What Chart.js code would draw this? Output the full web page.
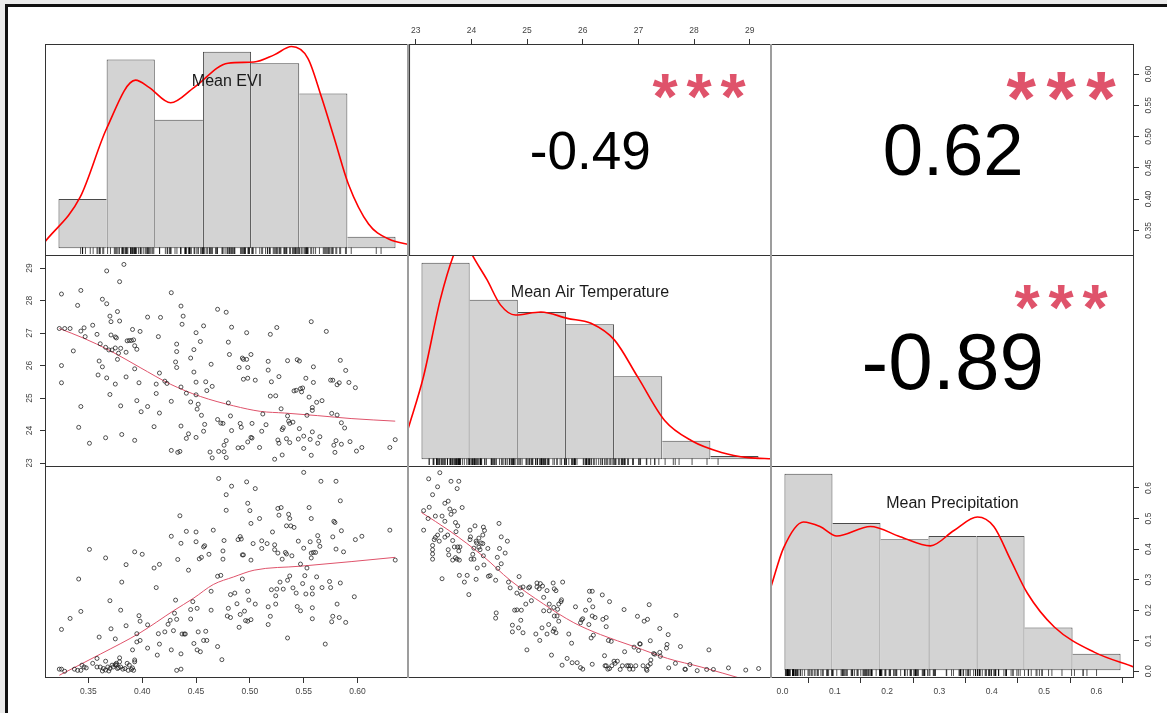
<!DOCTYPE html>
<html>
<head>
<meta charset="utf-8">
<title>Correlation matrix</title>
<script src="https://cdn.jsdelivr.net/npm/chart.js@4.4.0/dist/chart.umd.min.js"></script>
<style>
  html, body { margin: 0; padding: 0; }
  body { width: 1167px; height: 713px; overflow: hidden; position: relative; background: #ebebeb; }
  #frame { position: absolute; left: 5px; top: 4px; width: 1200px; height: 760px; background: #fff;
           border-left: 3px solid #111; border-top: 3px solid #111; }
  canvas { position: absolute; }
  .sep { position: absolute; top: 44px; height: 634px; width: 2px; background: #9d9d9d; z-index: 5; }
</style>
</head>
<body>
<div id="frame"></div>
<div class="sep" style="left:407px"></div>
<div class="sep" style="left:770px"></div>
<script>
// variables, in matrix order
const varNames = ['Mean EVI', 'Mean Air Temperature', 'Mean Precipitation'];

// upper panels: correlation and significance
const corValues = [-0.49, 0.62, -0.89];
const corStars = ['***', '***', '***'];

// axis ranges and tick steps
const eviRange = [0.3097, 0.6478];
const tempRange = [22.88, 29.40];
const precipRange = [-0.022, 0.672];
const eviStep = 0.05, tempStep = 1, precipStep = 0.1;

// histograms (counts per bin)
const eviBreaks = [0.30, 0.35, 0.40, 0.45, 0.50, 0.55, 0.60, 0.65];
const eviCounts = [13, 50, 34, 52, 49, 41, 3];
const tempBreaks = [23, 24, 25, 26, 27, 28, 29, 30];
const tempCounts = [64, 52, 48, 44, 27, 6, 1];
const precipBreaks = [0.0, 0.1, 0.2, 0.3, 0.4, 0.5, 0.6, 0.7];
const precipCounts = [60, 45, 40, 41, 41, 13, 5];

// kernel density curves, in count units
const eviDens = [[0.286,1.7],[0.3225,13.5],[0.350,31.7],[0.380,44.5],[0.394,42.6],[0.4165,38.5],[0.441,42.6],[0.476,49.0],[0.503,49.3],[0.524,51.2],[0.542,53.4],[0.559,50.3],[0.573,40.1],[0.587,28.6],[0.601,17.0],[0.622,6.4],[0.643,2.4],[0.665,0.9]];
const tempDens = [[22.72,9.8],[23.04,26.8],[23.39,52],[23.67,66.7],[23.86,73],[24.05,66.7],[24.36,58.5],[24.64,50.3],[24.95,47],[25.48,48],[26.03,45.9],[26.52,44.3],[27.01,38.8],[27.49,26.8],[28.05,12.6],[28.61,6.0],[29.23,2.2],[29.79,0.5],[30.29,0.1]];
const precipDens = [[-0.028,25.5],[-0.002,37.3],[0.0395,45.3],[0.074,43.9],[0.109,41.0],[0.179,43.9],[0.241,40.8],[0.304,38.0],[0.353,42.7],[0.402,46.8],[0.436,43.9],[0.471,33.7],[0.506,23.5],[0.562,13.2],[0.645,5.5],[0.729,0.9]];

// scatter points [x, y]
const eviTemp = [[0.323,27.14],[0.328,27.14],[0.333,27.14],[0.325,28.20],[0.325,26.00],[0.325,25.47],[0.340,27.85],[0.343,28.31],[0.343,27.06],[0.346,27.16],[0.347,26.89],[0.336,26.45],[0.341,24.10],[0.343,24.74],[0.351,23.61],[0.354,27.24],[0.358,26.96],[0.360,26.14],[0.359,25.71],[0.361,26.67],[0.363,28.04],[0.363,25.96],[0.366,23.78],[0.366,26.56],[0.367,28.91],[0.367,25.62],[0.367,27.90],[0.370,27.52],[0.371,27.35],[0.370,25.11],[0.371,26.94],[0.369,26.48],[0.372,26.48],[0.375,26.54],[0.375,26.88],[0.376,26.85],[0.377,27.66],[0.379,28.58],[0.379,27.37],[0.375,25.43],[0.377,26.19],[0.378,26.38],[0.380,26.53],[0.380,24.76],[0.381,23.88],[0.383,29.11],[0.385,26.41],[0.385,25.65],[0.386,26.76],[0.388,26.77],[0.390,26.77],[0.391,27.11],[0.392,26.79],[0.393,25.90],[0.393,26.61],[0.395,26.50],[0.395,24.92],[0.397,25.47],[0.393,23.70],[0.399,24.58],[0.398,27.05],[0.405,24.74],[0.405,27.49],[0.411,24.12],[0.413,25.14],[0.413,25.43],[0.415,26.89],[0.416,25.77],[0.416,24.54],[0.417,27.48],[0.421,25.52],[0.423,25.45],[0.427,24.90],[0.427,28.24],[0.427,23.39],[0.433,23.33],[0.432,26.66],[0.431,26.11],[0.432,25.94],[0.432,26.43],[0.435,23.36],[0.436,25.34],[0.436,27.83],[0.436,24.14],[0.437,27.27],[0.438,27.52],[0.441,25.15],[0.441,23.76],[0.443,23.90],[0.445,24.88],[0.445,26.23],[0.448,26.49],[0.448,25.80],[0.450,23.79],[0.450,27.01],[0.450,25.49],[0.451,24.66],[0.452,24.81],[0.454,26.74],[0.455,24.47],[0.457,27.22],[0.457,23.98],[0.458,24.19],[0.459,25.50],[0.460,25.23],[0.464,26.04],[0.465,25.36],[0.463,23.34],[0.465,23.16],[0.470,27.73],[0.471,23.36],[0.470,24.34],[0.473,24.23],[0.475,24.22],[0.476,23.35],[0.476,23.55],[0.478,27.64],[0.478,23.17],[0.478,23.69],[0.480,26.72],[0.480,24.85],[0.481,26.34],[0.483,27.18],[0.482,24.45],[0.483,24.00],[0.489,23.47],[0.490,25.94],[0.493,26.23],[0.491,24.22],[0.492,24.10],[0.493,23.48],[0.494,26.19],[0.494,25.58],[0.497,26.19],[0.497,27.01],[0.498,25.94],[0.498,25.61],[0.498,23.65],[0.501,26.34],[0.501,23.79],[0.502,23.77],[0.502,24.22],[0.505,25.55],[0.509,23.48],[0.512,24.51],[0.511,23.98],[0.515,24.18],[0.517,26.13],[0.517,25.86],[0.519,26.96],[0.520,25.50],[0.523,23.12],[0.524,25.07],[0.525,27.17],[0.527,25.66],[0.526,23.71],[0.527,23.61],[0.529,24.67],[0.530,23.25],[0.530,24.03],[0.531,24.09],[0.534,23.75],[0.535,24.45],[0.536,24.29],[0.537,24.22],[0.540,24.26],[0.537,23.63],[0.535,26.15],[0.541,25.22],[0.543,25.24],[0.544,26.18],[0.546,26.14],[0.547,25.29],[0.549,25.31],[0.545,23.74],[0.546,24.06],[0.550,23.83],[0.550,23.45],[0.552,25.61],[0.553,24.47],[0.555,25.03],[0.557,27.35],[0.556,23.73],[0.557,23.24],[0.558,24.62],[0.558,23.96],[0.559,25.48],[0.558,24.71],[0.559,25.96],[0.562,24.87],[0.563,23.61],[0.565,23.81],[0.567,24.92],[0.571,27.05],[0.576,24.53],[0.578,23.55],[0.579,23.33],[0.580,23.69],[0.581,24.48],[0.583,25.47],[0.584,26.16],[0.581,25.41],[0.585,23.58],[0.585,24.24],[0.588,24.08],[0.589,25.85],[0.592,25.48],[0.593,23.66],[0.598,25.32],[0.599,23.37],[0.604,23.48],[0.630,23.48],[0.635,23.72],[0.575,25.55],[0.577,25.55],[0.548,25.19],[0.519,25.06],[0.450,25.10]];

const eviPrecip = [[0.323,0.007],[0.325,0.007],[0.328,0.000],[0.337,0.007],[0.340,0.003],[0.343,0.003],[0.344,0.020],[0.346,0.014],[0.348,0.011],[0.354,0.026],[0.358,0.042],[0.358,0.014],[0.361,0.014],[0.363,0.001],[0.364,0.009],[0.366,0.033],[0.366,0.004],[0.368,0.014],[0.369,0.001],[0.370,0.009],[0.372,0.020],[0.373,0.014],[0.375,0.022],[0.376,0.020],[0.376,0.026],[0.377,0.009],[0.378,0.012],[0.379,0.031],[0.380,0.014],[0.382,0.007],[0.384,0.009],[0.386,0.026],[0.387,0.003],[0.388,0.020],[0.390,0.006],[0.391,0.011],[0.392,0.003],[0.393,0.031],[0.393,0.037],[0.325,0.137],[0.333,0.173],[0.341,0.302],[0.343,0.196],[0.351,0.399],[0.360,0.112],[0.366,0.371],[0.371,0.139],[0.370,0.231],[0.375,0.106],[0.379,0.044],[0.380,0.200],[0.381,0.292],[0.385,0.349],[0.385,0.149],[0.391,0.070],[0.393,0.391],[0.395,0.096],[0.395,0.123],[0.397,0.182],[0.398,0.164],[0.398,0.101],[0.400,0.383],[0.405,0.076],[0.405,0.152],[0.411,0.338],[0.413,0.274],[0.414,0.053],[0.415,0.123],[0.416,0.350],[0.416,0.089],[0.421,0.129],[0.424,0.154],[0.427,0.070],[0.427,0.442],[0.426,0.167],[0.429,0.133],[0.430,0.190],[0.431,0.233],[0.432,0.170],[0.432,0.003],[0.433,0.366],[0.435,0.509],[0.436,0.419],[0.436,0.007],[0.436,0.057],[0.437,0.122],[0.439,0.122],[0.440,0.122],[0.441,0.458],[0.443,0.331],[0.445,0.171],[0.445,0.202],[0.447,0.228],[0.448,0.091],[0.450,0.456],[0.450,0.424],[0.451,0.206],[0.451,0.070],[0.452,0.129],[0.453,0.368],[0.454,0.064],[0.455,0.373],[0.457,0.407],[0.457,0.101],[0.458,0.411],[0.459,0.131],[0.460,0.101],[0.462,0.383],[0.464,0.200],[0.464,0.262],[0.466,0.462],[0.470,0.081],[0.470,0.311],[0.471,0.631],[0.473,0.314],[0.474,0.038],[0.475,0.367],[0.475,0.394],[0.476,0.428],[0.478,0.527],[0.478,0.578],[0.479,0.181],[0.480,0.206],[0.482,0.176],[0.482,0.251],[0.483,0.606],[0.486,0.256],[0.488,0.221],[0.489,0.431],[0.490,0.144],[0.491,0.186],[0.491,0.441],[0.492,0.433],[0.493,0.302],[0.493,0.381],[0.494,0.381],[0.495,0.197],[0.496,0.166],[0.497,0.620],[0.498,0.550],[0.498,0.262],[0.498,0.164],[0.499,0.233],[0.500,0.526],[0.501,0.169],[0.501,0.364],[0.501,0.484],[0.503,0.418],[0.505,0.598],[0.505,0.220],[0.509,0.500],[0.511,0.427],[0.511,0.402],[0.516,0.418],[0.517,0.211],[0.517,0.153],[0.519,0.180],[0.520,0.267],[0.521,0.456],[0.523,0.414],[0.523,0.398],[0.524,0.220],[0.524,0.247],[0.525,0.269],[0.526,0.533],[0.526,0.387],[0.527,0.511],[0.528,0.292],[0.529,0.536],[0.530,0.367],[0.531,0.269],[0.533,0.389],[0.534,0.384],[0.534,0.476],[0.535,0.109],[0.535,0.298],[0.537,0.500],[0.536,0.514],[0.537,0.312],[0.538,0.476],[0.539,0.378],[0.540,0.273],[0.541,0.471],[0.543,0.256],[0.544,0.212],[0.545,0.426],[0.547,0.351],[0.547,0.198],[0.549,0.287],[0.550,0.403],[0.550,0.651],[0.551,0.313],[0.552,0.253],[0.553,0.338],[0.555,0.536],[0.556,0.424],[0.557,0.500],[0.557,0.371],[0.557,0.387],[0.558,0.273],[0.558,0.208],[0.558,0.253],[0.558,0.172],[0.559,0.389],[0.561,0.389],[0.562,0.309],[0.563,0.444],[0.564,0.426],[0.565,0.409],[0.566,0.622],[0.567,0.274],[0.570,0.089],[0.574,0.294],[0.575,0.274],[0.576,0.162],[0.577,0.440],[0.577,0.180],[0.578,0.491],[0.579,0.487],[0.580,0.400],[0.580,0.622],[0.581,0.220],[0.583,0.176],[0.584,0.289],[0.584,0.558],[0.585,0.460],[0.587,0.391],[0.589,0.160],[0.597,0.244],[0.598,0.431],[0.604,0.442],[0.630,0.462],[0.635,0.364]];

const tempPrecip = [[23.45,0.650],[23.25,0.630],[23.65,0.622],[23.79,0.622],[23.41,0.604],[23.32,0.578],[23.76,0.598],[23.54,0.550],[23.60,0.557],[23.16,0.526],[23.26,0.537],[23.37,0.508],[23.49,0.508],[23.63,0.531],[23.71,0.524],[23.54,0.491],[23.85,0.536],[23.65,0.514],[23.24,0.500],[23.16,0.462],[23.47,0.462],[23.73,0.487],[23.77,0.476],[23.74,0.457],[23.59,0.446],[23.41,0.446],[23.37,0.438],[23.35,0.431],[23.44,0.426],[23.54,0.439],[23.68,0.428],[23.32,0.412],[23.32,0.398],[23.32,0.384],[23.32,0.367],[23.60,0.398],[23.71,0.407],[23.77,0.407],[23.81,0.407],[23.79,0.394],[23.61,0.381],[23.73,0.372],[23.76,0.367],[23.68,0.364],[23.80,0.364],[23.99,0.462],[24.00,0.440],[24.08,0.476],[24.23,0.472],[24.25,0.461],[24.22,0.446],[24.15,0.436],[24.10,0.426],[23.99,0.431],[24.11,0.420],[24.19,0.420],[24.22,0.418],[24.31,0.402],[24.04,0.383],[24.01,0.367],[24.06,0.403],[24.15,0.406],[24.17,0.398],[24.23,0.378],[24.06,0.367],[24.12,0.338],[24.24,0.348],[23.80,0.314],[23.94,0.314],[23.89,0.292],[23.49,0.303],[23.97,0.251],[24.10,0.301],[24.32,0.311],[24.35,0.313],[24.45,0.298],[24.48,0.373],[24.55,0.440],[24.52,0.402],[24.49,0.337],[24.55,0.352],[24.62,0.387],[24.66,0.426],[24.51,0.484],[24.68,0.292],[24.71,0.273],[24.87,0.310],[24.89,0.273],[24.83,0.256],[24.94,0.276],[24.91,0.251],[24.99,0.220],[25.04,0.273],[25.09,0.231],[25.06,0.276],[25.19,0.276],[25.23,0.270],[25.19,0.289],[25.25,0.287],[25.29,0.279],[25.31,0.242],[25.37,0.264],[25.41,0.220],[25.48,0.289],[25.65,0.292],[25.50,0.270],[25.53,0.264],[25.58,0.220],[25.63,0.234],[25.56,0.203],[25.49,0.209],[25.50,0.181],[25.58,0.164],[25.31,0.198],[25.28,0.142],[25.41,0.198],[25.40,0.153],[25.48,0.131],[25.50,0.139],[25.53,0.126],[25.62,0.228],[25.55,0.181],[25.76,0.122],[25.81,0.092],[25.88,0.211],[25.97,0.159],[26.01,0.172],[25.99,0.168],[26.06,0.200],[26.13,0.262],[26.18,0.262],[26.19,0.211],[26.13,0.233],[26.18,0.181],[26.23,0.176],[26.12,0.153],[26.20,0.118],[26.16,0.109],[26.36,0.250],[26.37,0.170],[26.43,0.176],[26.43,0.146],[26.49,0.228],[26.47,0.101],[26.52,0.098],[26.40,0.051],[26.41,0.018],[26.43,0.018],[26.46,0.007],[26.49,0.009],[26.53,0.018],[26.57,0.033],[26.59,0.026],[26.63,0.033],[26.68,0.006],[26.72,0.018],[26.75,0.202],[26.76,0.064],[26.80,0.018],[26.83,0.018],[26.85,0.007],[26.87,0.018],[26.91,0.007],[26.93,0.079],[26.96,0.018],[26.99,0.180],[27.03,0.090],[27.04,0.089],[27.01,0.068],[27.09,0.018],[27.11,0.164],[27.15,0.007],[27.17,0.170],[27.18,0.018],[27.16,0.003],[27.20,0.218],[27.22,0.100],[27.23,0.037],[27.22,0.024],[27.28,0.058],[27.30,0.056],[27.39,0.062],[27.40,0.049],[27.39,0.140],[27.51,0.076],[27.52,0.088],[27.54,0.120],[27.55,0.011],[27.67,0.026],[27.68,0.183],[27.76,0.081],[27.84,0.007],[27.85,0.006],[27.93,0.022],[28.06,0.002],[28.23,0.006],[28.27,0.070],[28.35,0.006],[28.62,0.011],[28.93,0.004],[29.16,0.009],[25.01,0.070],[24.75,0.129],[24.75,0.151],[24.86,0.142],[24.79,0.200],[24.83,0.201],[24.91,0.200],[24.90,0.167],[24.94,0.126],[25.17,0.122],[25.24,0.101],[25.37,0.122],[25.45,0.053],[25.64,0.020],[25.73,0.042],[25.82,0.028],[25.91,0.028],[25.97,0.012],[26.01,0.007],[26.18,0.023],[24.45,0.174],[24.46,0.191]];

// smoothers through the scatter panels
const eviTempSmooth = [[0.323,27.14],[0.345,26.85],[0.370,26.46],[0.398,25.94],[0.426,25.43],[0.454,25.05],[0.485,24.76],[0.510,24.59],[0.532,24.54],[0.563,24.46],[0.594,24.37],[0.635,24.29]];
const eviPrecipSmooth = [[0.323,-0.013],[0.361,0.056],[0.398,0.126],[0.429,0.198],[0.448,0.240],[0.466,0.284],[0.485,0.309],[0.504,0.331],[0.547,0.344],[0.594,0.359],[0.635,0.373]];
const tempPrecipSmooth = [[23.12,0.520],[23.63,0.459],[24.23,0.376],[24.71,0.298],[25.31,0.220],[25.85,0.159],[26.33,0.120],[26.93,0.081],[27.53,0.042],[28.13,0.014],[28.91,-0.027]];

const FONT = '"Liberation Sans", Arial, sans-serif';
const TICK_COLOR = '#444';

// ---- plugins ----
function inkText(ctx, txt, cx, cy, size, color, weight) {
  ctx.font = (weight ? weight + ' ' : '') + size + 'px ' + FONT;
  ctx.fillStyle = color;
  ctx.textAlign = 'left';
  ctx.textBaseline = 'alphabetic';
  const m = ctx.measureText(txt);
  const w = m.actualBoundingBoxLeft + m.actualBoundingBoxRight;
  const h = m.actualBoundingBoxAscent + m.actualBoundingBoxDescent;
  ctx.fillText(txt, cx - w / 2 + m.actualBoundingBoxLeft, cy - h / 2 + m.actualBoundingBoxAscent);
}

const boxPlugin = {
  id: 'box',
  afterDraw(chart) {
    const a = chart.chartArea, ctx = chart.ctx;
    ctx.save();
    ctx.strokeStyle = '#333';
    ctx.lineWidth = 1;
    ctx.strokeRect(a.left + 0.5, a.top + 0.5, a.right - a.left - 1, a.bottom - a.top - 1);
    ctx.restore();
  }
};

const rugPlugin = {
  id: 'rug',
  afterDatasetsDraw(chart, args, opts) {
    if (!opts.values) return;
    const x = chart.scales.x, a = chart.chartArea, ctx = chart.ctx;
    ctx.save();
    ctx.strokeStyle = 'rgba(0,0,0,0.85)';
    ctx.lineWidth = 0.8;
    ctx.beginPath();
    opts.values.forEach(v => {
      const px = x.getPixelForValue(v);
      ctx.moveTo(px, a.bottom - 2);
      ctx.lineTo(px, a.bottom - 8.5);
    });
    ctx.stroke();
    ctx.restore();
  }
};

const diagPlugin = {
  id: 'diag',
  afterDraw(chart, args, opts) {
    if (!opts.text) return;
    const a = chart.chartArea, ctx = chart.ctx;
    ctx.save();
    ctx.font = '16px ' + FONT;
    ctx.fillStyle = '#1a1a1a';
    ctx.textAlign = 'center';
    ctx.textBaseline = 'alphabetic';
    ctx.fillText(opts.text, (a.left + a.right) / 2, a.top + 0.197 * (a.bottom - a.top));
    ctx.restore();
  }
};

// cex logic of the upper panels: size from the width of the text, number scaled by |r|
const corPlugin = {
  id: 'cor',
  afterDraw(chart, args, opts) {
    if (opts.r === undefined) return;
    const ctx = chart.ctx, x = chart.scales.x, y = chart.scales.y, a = chart.chartArea;
    const txt = opts.r.toFixed(2);
    ctx.save();
    ctx.font = '100px ' + FONT;
    const base = 0.549 * (a.right - a.left) / (ctx.measureText(txt).width / 100);
    inkText(ctx, txt, x.getPixelForValue(0.5), y.getPixelForValue(0.5), base * (Math.abs(opts.r) + 0.3) / 1.3, '#000');
    // stars: spacing of the base size, heavy glyphs a little smaller
    ctx.font = base + 'px ' + FONT;
    const step = ctx.measureText('*').width;
    const n = opts.stars.length;
    const cx = x.getPixelForValue(0.8), cy = y.getPixelForValue(0.8);
    for (let i = 0; i < n; i++) {
      inkText(ctx, opts.stars[i], cx + (i - (n - 1) / 2) * step, cy, base * 0.74, '#DF536B', 'bold');
    }
    ctx.restore();
  }
};

// rotated labels for the vertical axes
const vlabelPlugin = {
  id: 'vlabels',
  afterDraw(chart, args, opts) {
    if (!opts.axis) return;
    const s = chart.scales[opts.axis], ctx = chart.ctx;
    const x = s.position === 'left' ? s.right - opts.offset : s.left + opts.offset;
    ctx.save();
    ctx.font = '8.5px ' + FONT;
    ctx.fillStyle = TICK_COLOR;
    ctx.textAlign = 'center';
    ctx.textBaseline = 'middle';
    s.ticks.forEach(t => {
      ctx.save();
      ctx.translate(x, s.getPixelForValue(t.value));
      ctx.rotate(-Math.PI / 2);
      ctx.fillText(t.label, 0, 0);
      ctx.restore();
    });
    ctx.restore();
  }
};

Chart.register(boxPlugin, rugPlugin, diagPlugin, corPlugin, vlabelPlugin);

// ---- helpers ----
function place(left, top, w, h) {
  const c = document.createElement('canvas');
  c.width = w; c.height = h;
  c.style.left = left + 'px'; c.style.top = top + 'px';
  c.style.width = w + 'px'; c.style.height = h + 'px';
  document.body.appendChild(c);
  return c;
}

const hid = (min, max) => ({
  type: 'linear', display: false, min, max, offset: false,
  afterBuildTicks: s => { s.ticks = []; }
});

function axis(pos, range, step, dec, size) {
  const horiz = pos === 'top' || pos === 'bottom';
  return {
    type: 'linear', axis: horiz ? 'x' : 'y', position: pos, min: range[0], max: range[1], offset: false,
    afterFit: s => { if (horiz) s.height = size; else s.width = size; },
    border: { display: false },
    grid: { drawOnChartArea: false, drawTicks: true, tickLength: 5, tickWidth: 1, tickColor: '#333' },
    ticks: {
      display: horiz, stepSize: step, includeBounds: false, autoSkip: false,
      minRotation: 0, maxRotation: 0, padding: pos === 'top' ? 3 : 4,
      font: { family: FONT, size: 8.5 }, color: TICK_COLOR,
      callback: v => v.toFixed(dec)
    }
  };
}

function options(scales, plugins) {
  return {
    responsive: false, animation: false, events: [],
    layout: { padding: 0, autoPadding: false },
    scales,
    plugins: Object.assign({ legend: { display: false }, tooltip: { enabled: false } }, plugins)
  };
}

function histChart(canvas, breaks, counts, dens, rugValues, name, extraScales, extraPlugins) {
  const lo = breaks[0], hi = breaks[breaks.length - 1], pad = (hi - lo) * 0.04;
  const top = Math.max(...counts);
  const last = counts.length - 1;
  const scales = Object.assign({ x: hid(lo - pad, hi + pad), y: hid(-0.04 * top, 1.04 * top) }, extraScales || {});
  new Chart(canvas, {
    type: 'bar',
    data: {
      datasets: [
        {
          type: 'line',
          data: dens.map(p => ({ x: p[0], y: p[1] })),
          borderColor: '#ff0000', borderWidth: 1.6, pointRadius: 0,
          cubicInterpolationMode: 'monotone', order: 0
        },
        {
          data: counts.map((c, i) => ({ x: (breaks[i] + breaks[i + 1]) / 2, y: c })),
          backgroundColor: '#d3d3d3', borderColor: '#4a4a4a',
          borderSkipped: false, inflateAmount: 0,
          borderWidth: ctx => {
            const i = ctx.dataIndex;
            return {
              top: 1, bottom: 1,
              left: (i === 0 || counts[i - 1] <= counts[i]) ? 1 : 0,
              right: (i === last || counts[i + 1] < counts[i]) ? 1 : 0
            };
          },
          barPercentage: 1, categoryPercentage: 1, order: 1
        }
      ]
    },
    options: options(scales, Object.assign({ rug: { values: rugValues }, diag: { text: name } }, extraPlugins || {}))
  });
}

function scatterChart(canvas, pts, smooth, xScale, yScale, extraPlugins) {
  new Chart(canvas, {
    type: 'scatter',
    data: {
      datasets: [
        {
          data: pts.map(p => ({ x: p[0], y: p[1] })),
          pointStyle: 'circle', pointRadius: 2, borderWidth: 0.75,
          borderColor: '#1a1a1a', backgroundColor: 'rgba(0,0,0,0)'
        },
        {
          data: smooth.map(p => ({ x: p[0], y: p[1] })),
          showLine: true, pointRadius: 0, borderColor: '#DF536B', borderWidth: 1,
          cubicInterpolationMode: 'monotone'
        }
      ]
    },
    options: options({ x: xScale, y: yScale }, extraPlugins || {})
  });
}

function corChart(canvas, r, stars, extraScales, extraPlugins) {
  new Chart(canvas, {
    type: 'scatter',
    data: { datasets: [] },
    options: options(Object.assign({ x: hid(0, 1), y: hid(0, 1) }, extraScales || {}),
      Object.assign({ cor: { r, stars } }, extraPlugins || {}))
  });
}

// ---- panels ----
// row 1
histChart(place(45, 44, 364, 212), eviBreaks, eviCounts, eviDens, eviTemp.map(p => p[0]), varNames[0]);
corChart(place(408, 0, 364, 256), corValues[0], corStars[0],
  { xt: axis('top', tempRange, tempStep, 0, 44) });
corChart(place(771, 44, 396, 212), corValues[1], corStars[1],
  { yr: axis('right', [0.309, 0.648], eviStep, 2, 33) },
  { vlabels: { axis: 'yr', offset: 14.5 } });

// row 2
scatterChart(place(0, 255, 409, 212), eviTemp, eviTempSmooth,
  hid(eviRange[0], eviRange[1]),
  axis('left', tempRange, tempStep, 0, 45),
  { vlabels: { axis: 'y', offset: 15 } });
histChart(place(408, 255, 364, 212), tempBreaks, tempCounts, tempDens, tempPrecip.map(p => p[0]), varNames[1]);
corChart(place(771, 255, 363, 212), corValues[2], corStars[2]);

// row 3
scatterChart(place(45, 466, 364, 247), eviPrecip, eviPrecipSmooth,
  axis('bottom', eviRange, eviStep, 2, 35),
  hid(precipRange[0], precipRange[1]));
scatterChart(place(408, 466, 364, 212), tempPrecip, tempPrecipSmooth,
  hid(tempRange[0], tempRange[1]),
  hid(precipRange[0], precipRange[1]));
histChart(place(771, 466, 396, 247), precipBreaks, precipCounts, precipDens, tempPrecip.map(p => p[1]), varNames[2],
  { xb: axis('bottom', precipRange, precipStep, 1, 35), yr: axis('right', precipRange, precipStep, 1, 33) },
  { vlabels: { axis: 'yr', offset: 14.5 } });
</script>
</body>
</html>
